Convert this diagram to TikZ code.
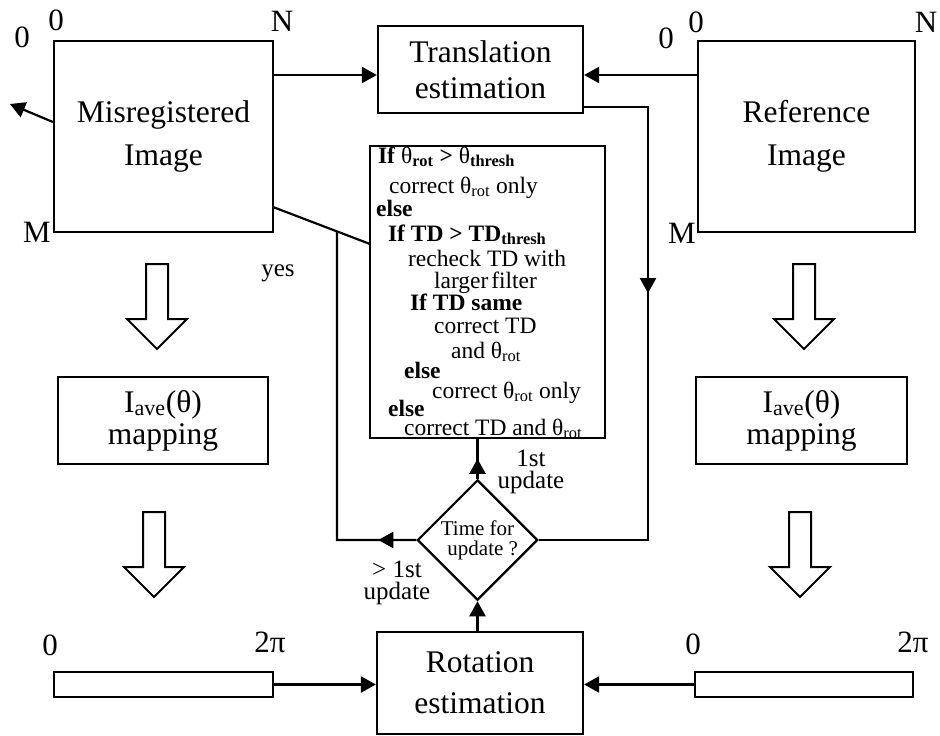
\documentclass[tikz,border=0pt]{standalone}
\usepackage{fontspec}
\setmainfont{Liberation Serif}
\usetikzlibrary{arrows.meta,shapes.geometric,decorations.markings,calc}

\begin{document}
\begin{tikzpicture}[x=1pt,y=-1pt,line width=2.2pt,
  tip/.style={-{Triangle[length=15pt,width=16pt]}},
  mtip/.style={postaction={decorate},decoration={markings,
      mark=at position #1 with {\arrow{Triangle[length=15pt,width=16pt]}}}},
  box/.style={draw,inner sep=0pt,align=center},
  big/.style={font=\fontsize{31.5}{#1}\selectfont},
  lab/.style={inner sep=0pt,font=\fontsize{31}{31}\selectfont},
  small/.style={inner sep=0pt,align=center,font=\fontsize{25}{21.5}\selectfont},
  cond/.style={inner sep=0pt,anchor=base west,font=\fontsize{23.5}{23}\selectfont},
  harrow/.pic={\draw[line width=2pt,line join=miter]
      (-11,0) -- (11,0) -- (11,55) -- (30,55) -- (0,85) -- (-30,55) -- (-11,55) -- cycle;}
]
\useasboundingbox (0,0) rectangle (940,736);

% image blocks
\node[box,big=43,minimum width=219pt,minimum height=191pt] (mis) at (163.5,136.5) {Misregistered\\Image};
\node[box,big=43,minimum width=217pt,minimum height=191pt] (ref) at (806.5,136.5) {Reference\\Image};

% corner labels
\node[lab] (m0a) at (56,20) {0};
\node[lab] (m0b) at (22,37) {0};
\node[lab] (mN) at (282,21) {N};
\node[lab] (mM) at (37,232) {M};
\node[lab] (r0a) at (696,22) {0};
\node[lab] (r0b) at (666,38) {0};
\node[lab] (rN) at (926,22) {N};
\node[lab] (rM) at (682,233) {M};

% estimation blocks
\node[box,big=36,minimum width=205pt,minimum height=87pt] (trans) at (480.5,69.5) {Translation\\estimation};
\node[box,big=41,minimum width=206pt,minimum height=102pt] (rot) at (480,683) {Rotation\\estimation};

% mapping blocks
\node[box,big=32,minimum width=210pt,minimum height=87pt] (mapL) at (163,420.5) {I\textsubscript{ave}(θ)\\mapping};
\node[box,big=32,minimum width=211pt,minimum height=87pt] (mapR) at (801.5,420.5) {I\textsubscript{ave}(θ)\\mapping};

% hollow flow arrows
\pic at (157,264) {harrow};
\pic at (154,512) {harrow};
\pic at (804,264) {harrow};
\pic at (800,512) {harrow};

% angular profile bars
\node[draw,inner sep=0pt,minimum width=219pt,minimum height=25pt] (lbar) at (163.5,684.5) {};
\node[draw,inner sep=0pt,minimum width=218pt,minimum height=25pt] (rbar) at (804,684.5) {};
\node[lab] (lb0) at (50,645) {0};
\node[lab] (lb2) at (270,642) {2π};
\node[lab] (rb0) at (693,644) {0};
\node[lab] (rb2) at (913,642) {2π};

% decision rules
\node[draw,inner sep=0pt,minimum width=235pt,minimum height=292pt] (dec) at (487.5,292) {};
\node[cond] (c1) at (377,163) {\textbf{If} θ\textsubscript{\textbf{rot}} \textbf{>} θ\textsubscript{\textbf{thresh}}};
\node[cond] (c2) at (388,193) {correct θ\textsubscript{rot} only};
\node[cond] (c3) at (375,216) {\textbf{else}};
\node[cond] (c4) at (387,241) {\textbf{If TD > TD\textsubscript{thresh}}};
\node[cond] (c5) at (407,266) {recheck TD with};
\node[cond] (c6) at (433,288) {larger\hspace{0.12em}filter};
\node[cond] (c7) at (409,310) {\textbf{If TD same}};
\node[cond] (c8) at (433,333) {correct TD};
\node[cond] (c9) at (450,358) {and θ\textsubscript{rot}};
\node[cond] (c10) at (403,378) {\textbf{else}};
\node[cond] (c11) at (431,398) {correct θ\textsubscript{rot} only};
\node[cond] (c12) at (387,416) {\textbf{else}};
\node[cond] (c13) at (403,435) {correct TD and θ\textsubscript{rot}};

% update decision
\node[draw,diamond,inner sep=0pt,minimum width=119pt,minimum height=118pt,align=center,
      font=\fontsize{21}{20}\selectfont] (dia) at (477.5,540) {Time for\\\ \ update ?};

% labels
\node[small] (yes) at (278,273) {yes};
\node[small] (first) at (531,472) {1st\\update};
\node[small] (later) at (397,583) {> 1st\\update};

% helper coordinates
\coordinate (yT) at (0,75);
\coordinate (yB) at (0,107);
\coordinate (xR) at (648,0);
\coordinate (xL) at (337,0);
\coordinate (yO) at (0,122);
\coordinate (outL) at (10,104);
\coordinate (dA) at (273,207);
\coordinate (dB) at (370,244);
\coordinate (jn) at ($(dA)!0.66!(dB)$);

% connectors
\draw[tip] (mis.east |- yT) -- (trans.west |- yT);
\draw[tip] (ref.west |- yT) -- (trans.east |- yT);
\draw[tip] (mis.west |- yO) -- (outL);
\draw (dA) -- (dB);
\draw[mtip=250pt] (trans.east |- yB) -- (xR |- yB) -- (xR |- dia.east) -- (dia.east);
\draw[mtip=38pt] (dia.west) -- (xL |- dia.west) -- (jn);
\draw[mtip=20pt] (dia.north) -- (dia.north |- dec.south);
\draw[tip] (dia.south |- rot.north) -- (dia.south);
\draw[tip] (lbar.east) -- (lbar.east -| rot.west);
\draw[tip] (rbar.west) -- (rbar.west -| rot.east);
\end{tikzpicture}
\end{document}
